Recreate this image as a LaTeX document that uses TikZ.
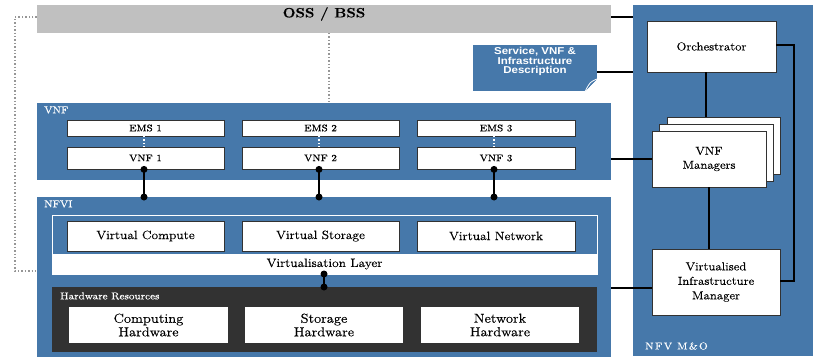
\documentclass[tikz,border=0pt]{standalone}
\usepackage{fontspec}
\setmainfont{Latin Modern Roman}[FakeStretch=1.12,FakeBold=0.3]
\newfontfamily\docsans{Liberation Sans}[FakeStretch=1.15]
\usetikzlibrary{calc}
\definecolor{etsiblue}{RGB}{70,120,170}
\definecolor{ossgray}{RGB}{192,192,192}
\definecolor{hwdark}{RGB}{50,50,50}
\definecolor{dotgray}{RGB}{150,150,150}
\tikzset{
  panel/.style={draw=none,fill=etsiblue,minimum width=#1,inner sep=0pt},
  wbox/.style={draw=hwdark,line width=0.8pt,fill=white,inner sep=0pt,align=center,font=\fontsize{12}{14}\selectfont},
  smallbox/.style={wbox,font=\fontsize{9.5}{11}\selectfont},
  mgmtbox/.style={wbox,font=\fontsize{11.5}{14.5}\selectfont},
  hwbox/.style={wbox,draw=none,font=\fontsize{13}{13.5}\selectfont},
  tag/.style={text=white,anchor=west,inner sep=0pt,font=\fontsize{10}{11}\selectfont},
  link/.style={line width=2pt,black},
  ref/.style={draw=dotgray,line width=1.4pt,dotted},
  emsref/.style={draw=white,line width=1.4pt,dotted},
  ball/.style={circle,fill=black,inner sep=0pt,minimum size=7pt}
}
\begin{document}
\begin{tikzpicture}[x=1pt,y=-1pt]
\useasboundingbox[fill=white] (0,0) rectangle (813,356);

% OSS/BSS bar
\node[fill=ossgray,minimum width=574pt,minimum height=28pt,inner sep=0pt] (oss) at (324,19) {};
\node[font=\bfseries\fontsize{13.5}{15}\selectfont,inner sep=0pt] (osslabel) at (324,14) {OSS / BSS};

% NFV management and orchestration column
\node[panel=180pt,minimum height=351pt] (mano) at (723,180.5) {};
\node[tag] (manolabel) at (645,346) {\addfontfeature{LetterSpace=14}NFV M\&O};

% VNF layer
\node[panel=574pt,minimum height=77pt] (vnf) at (324,141.5) {};
\node[tag] (vnflabel) at (44,110) {VNF};
\node[smallbox,minimum width=157pt,minimum height=16pt] (ems1) at (145.5,128) {EMS 1};
\node[smallbox,minimum width=157pt,minimum height=16pt] (ems2) at (320.5,128) {EMS 2};
\node[smallbox,minimum width=158pt,minimum height=16pt] (ems3) at (496,128) {EMS 3};
\node[smallbox,minimum width=157pt,minimum height=22pt] (vnf1) at (145.5,158) {VNF 1};
\node[smallbox,minimum width=157pt,minimum height=22pt] (vnf2) at (320.5,158) {VNF 2};
\node[smallbox,minimum width=158pt,minimum height=22pt] (vnf3) at (496,158) {VNF 3};
\foreach \i/\x in {1/144,2/319,3/494}{
  \draw[emsref] (\x,136) -- (\x,147);
}

% NFVI
\node[panel=574pt,minimum height=160pt] (nfvi) at (324,277) {};
\node[tag] (nfvilabel) at (44,204) {NFVI};
\node[draw=white,line width=0.8pt,fill=etsiblue,minimum width=545pt,minimum height=59pt,inner sep=0pt] (virt) at (324.5,244.5) {};
\node[fill=white,minimum width=545pt,minimum height=20pt,inner sep=0pt,font=\fontsize{12}{13}\selectfont] (vlayer) at (324.5,264) {Virtualisation Layer};
\node[wbox,minimum width=157pt,minimum height=30pt] (vcomp) at (145.5,236) {Virtual Compute};
\node[wbox,minimum width=157pt,minimum height=30pt] (vstor) at (320.5,236) {Virtual Storage};
\node[wbox,minimum width=158pt,minimum height=30pt] (vnet) at (496,236) {Virtual Network};

\node[fill=hwdark,minimum width=545pt,minimum height=65pt,inner sep=0pt] (hw) at (324.5,319.5) {};
\node[tag] (hwlabel) at (60,296) {Hardware Resources};
\node[hwbox,minimum width=159pt,minimum height=36pt] (hcomp) at (148.5,325) {Computing\\Hardware};
\node[hwbox,minimum width=158pt,minimum height=36pt] (hstor) at (324,325) {Storage\\Hardware};
\node[hwbox,minimum width=158pt,minimum height=36pt] (hnet) at (500,325) {Network\\Hardware};

% Descriptor document with folded corner
\node[fill=etsiblue,minimum width=124pt,minimum height=46pt,inner sep=0pt] (desc) at (535,68) {};
\node[text=white,align=center,inner sep=0pt,font=\docsans\bfseries\fontsize{10}{9.6}\selectfont] (desctext) at (535,61.5) {Service, VNF \&\\Infrastructure\\Description};
\fill[white] (desc.south east) ++(-12,0) -- (desc.south east) -- ++(0,-12) -- cycle;
\fill[etsiblue] (desc.south east) ++(-12,0) .. controls (586,84) .. (597,79) -- cycle;
\draw[white,line width=0.8pt] (desc.south east) ++(-12,0) .. controls (590,82) .. (597,79);

% Management blocks
\node[mgmtbox,minimum width=129pt,minimum height=51pt] (orch) at (711.5,46.5) {Orchestrator};
\node[mgmtbox,minimum width=113pt,minimum height=57pt] (vnfm3) at (723.5,145.5) {};
\node[mgmtbox,minimum width=114pt,minimum height=57pt] (vnfm2) at (716,152.5) {};
\node[mgmtbox,minimum width=114pt,minimum height=56pt,font=\fontsize{11.5}{14}\selectfont] (vnfm) at (709,159) {VNF\\Managers};
\node[mgmtbox,minimum width=128pt,minimum height=66pt] (vim) at (716,282) {Virtualised\\Infrastructure\\Manager};

% Reference points
\draw[ref] (oss.west |- 0,17) -- (15,17) -- (15,271) -- (nfvi.west |- 0,271);
\draw[ref] (329,33) -- (329,103);

% Interfaces
\draw[link] (oss.east |- 0,17) -- (mano.west |- 0,17);
\draw[link] (desc.east |- 0,72) -- (mano.west |- 0,72);
\draw[link] (vnf.east |- vnfm.west) -- (vnfm.west);
\draw[link] (nfvi.east |- 0,288) -- (vim.west |- 0,288);
\draw[link] (orch.south -| 706,0) -- (vnfm3.north -| 706,0);
\draw[link] (vnfm.south -| 709,0) -- (vim.north -| 709,0);
\draw[link] (orch.east |- 0,45) -- (794,45) -- (794,281) -- (vim.east |- 0,281);

\foreach \x/\n in {144/vnf1,319/vnf2,494/vnf3}{
  \draw[link] (\n.south -| \x,0) -- (\x,197);
  \node[ball] at (\n.south -| \x,0) {};
  \node[ball] at (\x,197) {};
}
\draw[link] (324,273) -- (324,287);
\node[ball] at (324,274) {};
\node[ball] at (324,287) {};
\end{tikzpicture}
\end{document}
